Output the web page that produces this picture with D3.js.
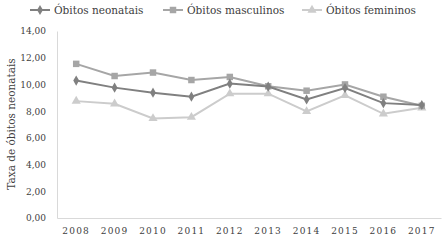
<!DOCTYPE html>
<html><head><meta charset="utf-8">
<script src="https://cdn.jsdelivr.net/npm/d3@7"></script>
<style>body{margin:0;background:#fff;}svg{display:block;}</style>
</head><body>
<script>
const years = ["2008","2009","2010","2011","2012","2013","2014","2015","2016","2017"];
const neonatais = [10.29, 9.76, 9.38, 9.08, 10.06, 9.84, 8.88, 9.73, 8.60, 8.46];
const masculinos = [11.54, 10.63, 10.89, 10.33, 10.56, 9.86, 9.53, 10.00, 9.08, 8.40];
const femininos = [8.75, 8.55, 7.45, 7.55, 9.31, 9.31, 7.98, 9.18, 7.80, 8.25];
const yTicks = [0, 2, 4, 6, 8, 10, 12, 14];
const seriesNames = ["Óbitos neonatais", "Óbitos masculinos", "Óbitos femininos"];

const W = 445, H = 240;
const font = "DejaVu Serif";
const svg = d3.select("body").append("svg").attr("width", W).attr("height", H);

const x = d3.scaleBand().domain(years).range([57, 441]);
const y = d3.scaleLinear().domain([0, 14]).range([218, 31]);

const series = [
  {name: seriesNames[0], values: neonatais, color: "#808080", sym: d3.symbolDiamond, size: 30},
  {name: seriesNames[1], values: masculinos, color: "#a6a6a6", sym: d3.symbolSquare, size: 42},
  {name: seriesNames[2], values: femininos, color: "#cccccc", sym: d3.symbolTriangle, size: 36}
];

// axes
const yAxis = d3.axisLeft(y).tickValues(yTicks).tickSize(0).tickPadding(11)
  .tickFormat(d => d3.format(".2f")(d).replace(".", ","));
const gy = svg.append("g").attr("transform", "translate(57,0)").call(yAxis);
gy.select(".domain").attr("stroke", "#d9d9d9").attr("stroke-width", 1);
gy.selectAll("text").attr("font-family", font).attr("font-size", 9).attr("fill", "#404040");

const xAxis = d3.axisBottom(x).tickSize(0).tickPadding(10);
const gx = svg.append("g").attr("transform", "translate(0,218)").call(xAxis);
gx.select(".domain").attr("stroke", "#d9d9d9").attr("stroke-width", 1);
gx.selectAll("text").attr("font-family", font).attr("font-size", 9).attr("fill", "#404040")
  .attr("letter-spacing", 1.2);

svg.append("text").attr("transform", "translate(15,124) rotate(-90)")
  .attr("text-anchor", "middle").attr("font-family", font).attr("font-size", 10.5)
  .attr("fill", "#404040").text("Taxa de óbitos neonatais");

const line = d3.line().x((d, i) => x(years[i]) + x.bandwidth() / 2).y(d => y(d));

// draw in order: femininos, masculinos, neonatais on top
[series[2], series[1], series[0]].forEach(s => {
  svg.append("path").datum(s.values).attr("d", line).attr("fill", "none")
    .attr("stroke", s.color).attr("stroke-width", 2);
  svg.append("g").selectAll("path").data(s.values).join("path")
    .attr("d", d3.symbol().type(s.sym).size(s.size))
    .attr("transform", (d, i) => `translate(${x(years[i]) + x.bandwidth() / 2},${y(d)})`)
    .attr("fill", s.color);
});

// legend
const legX = [30, 163, 302];
series.forEach((s, i) => {
  const g = svg.append("g").attr("transform", `translate(${legX[i]},10)`);
  g.append("line").attr("x1", 0).attr("x2", 20).attr("y1", 0).attr("y2", 0)
    .attr("stroke", s.color).attr("stroke-width", 2);
  g.append("path").attr("d", d3.symbol().type(s.sym).size(s.size))
    .attr("transform", "translate(10,0)").attr("fill", s.color);
  g.append("text").attr("x", 24).attr("y", 4).attr("font-family", font)
    .attr("font-size", 10.5).attr("fill", "#404040").text(s.name);
});
</script>
</body></html>
